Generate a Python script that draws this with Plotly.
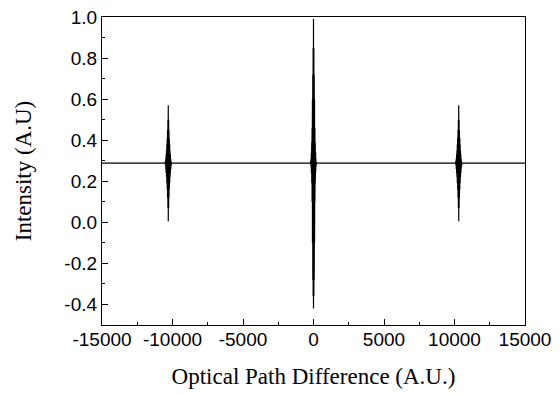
import plotly.graph_objects as go

# ---- data ----
baseline = 0.288
burst_centers = [-10300, 0, 10300]
offsets = [0, 25, 50, 75, 100, 125, 150, 175, 200, 225, 250]
center_upper = [0.99, 0.85, 0.72, 0.60, 0.46, 0.39, 0.34, 0.31, 0.295, 0.288, 0.288]
center_lower = [-0.42, -0.36, -0.28, -0.10, 0.10, 0.19, 0.24, 0.27, 0.282, 0.288, 0.288]
side_upper = [0.57, 0.50, 0.45, 0.41, 0.38, 0.35, 0.33, 0.31, 0.298, 0.29, 0.288]
side_lower = [0.005, 0.07, 0.12, 0.16, 0.19, 0.22, 0.24, 0.26, 0.275, 0.285, 0.288]
x_range = [-15000, 15000]
x_ticks = [-15000, -10000, -5000, 0, 5000, 10000, 15000]
x_ticklabels = ["-15000", "-10000", "-5000", "0", "5000", "10000", "15000"]
y_ticks = [-0.4, -0.2, 0.0, 0.2, 0.4, 0.6, 0.8, 1.0]
y_ticklabels = ["-0.4", "-0.2", "0.0", "0.2", "0.4", "0.6", "0.8", "1.0"]

# ---- build the trace: baseline with three bursts (envelope drawn as dense vertical strokes) ----
xs = [x_range[0]]
ys = [baseline]
for c in burst_centers:
    up = center_upper if c == 0 else side_upper
    lo = center_lower if c == 0 else side_lower
    sym_off = [-o for o in offsets[::-1]] + offsets[1:]
    sym_up = up[::-1] + up[1:]
    sym_lo = lo[::-1] + lo[1:]
    for o, u, l in zip(sym_off, sym_up, sym_lo):
        xs += [c + o, c + o]
        ys += [u, l]
    xs.append(c + offsets[-1] + 10)
    ys.append(baseline)
xs.append(x_range[1])
ys.append(baseline)

fig = go.Figure()
fig.add_trace(go.Scatter(x=xs, y=ys, mode="lines",
                         line=dict(color="black", width=1.2, simplify=False),
                         showlegend=False, hoverinfo="skip"))

tick_font = dict(family="Liberation Sans, Arial, sans-serif", size=19, color="black")
title_font = dict(family="Liberation Serif, Times New Roman, serif", size=23, color="black")

fig.update_layout(
    width=560, height=394,
    margin=dict(l=102, r=35, t=17, b=69, autoexpand=False),
    paper_bgcolor="white", plot_bgcolor="white",
    showlegend=False,
)
fig.update_xaxes(
    automargin=False,
    range=x_range, tickvals=x_ticks, ticktext=x_ticklabels,
    ticks="inside", ticklen=6, tickwidth=1, tickcolor="black",
    minor=dict(dtick=2500, tick0=0, ticks="inside", ticklen=3, tickcolor="black"),
    showline=True, linecolor="black", linewidth=1.2, mirror=True,
    showgrid=False, zeroline=False, tickfont=tick_font, ticklabelstandoff=-3,
    title=dict(text="Optical Path Difference (A.U.)", font=title_font, standoff=18),
)
fig.update_yaxes(
    automargin=False,
    range=[-0.5, 1.0], tickvals=y_ticks, ticktext=y_ticklabels,
    ticks="inside", ticklen=6, tickwidth=1, tickcolor="black",
    minor=dict(dtick=0.1, tick0=0, ticks="inside", ticklen=3, tickcolor="black"),
    showline=True, linecolor="black", linewidth=1.2, mirror=True,
    showgrid=False, zeroline=False, tickfont=tick_font,
    title=dict(text="Intensity (A.U)", font=title_font, standoff=26),
)

fig.write_html("out.html", config={"displayModeBar": False},
               post_script="document.body.style.margin='0';")
